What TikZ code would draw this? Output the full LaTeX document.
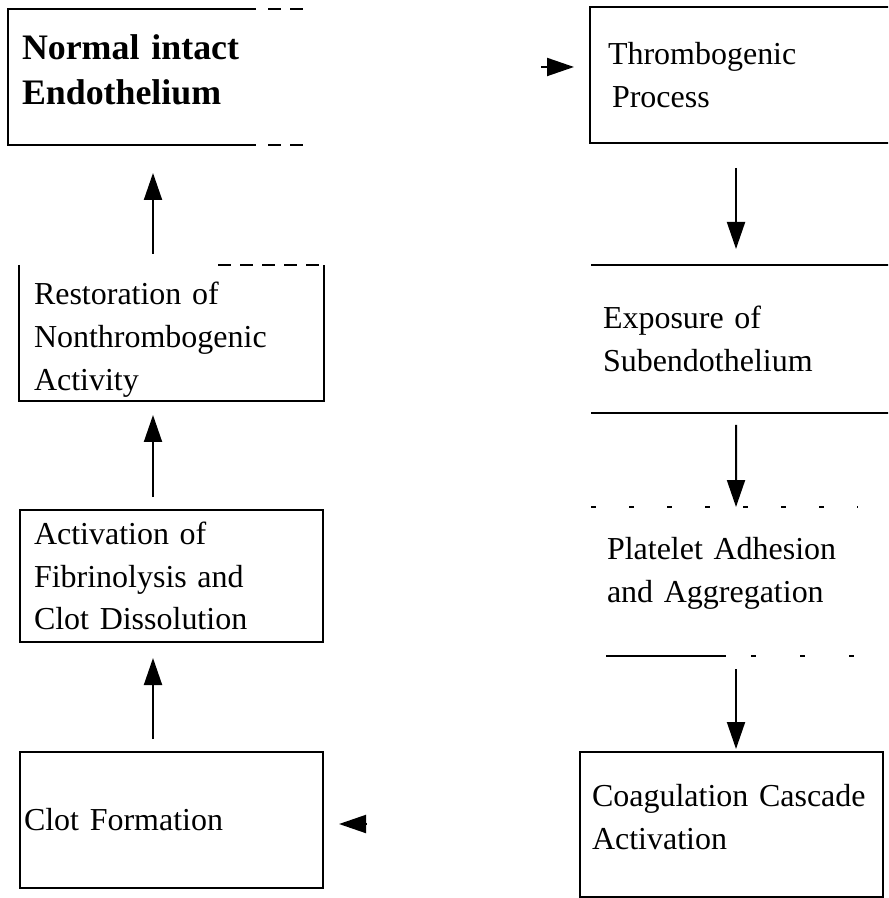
\documentclass[tikz,border=0pt]{standalone}
\usepackage{fontspec}
\setmainfont{Liberation Serif}
\usetikzlibrary{arrows.meta}

\newcommand\boxtxt{\fontsize{9.1}{12.2}\selectfont}
\newcommand\headtxt{\fontsize{10.2}{12.8}\selectfont\bfseries}

\begin{document}
\begin{tikzpicture}[x=0.1mm, y=-0.1mm, line width=0.2mm, font=\boxtxt,
  flow/.style={align=left, inner ysep=0pt},
  framed/.style={flow, draw},
  link/.style={-{Triangle[length=2.7mm, width=1.8mm]}},
  gapline/.style={dash pattern=on 1.3mm off 0.9mm}]

  \useasboundingbox (0,0) rectangle (888,898);
  \clip (0,0) rectangle (888,898);

  % left column: healing, read from the bottom up
  % (the \rule struts only nudge the text up or down inside its frame)
  \node[flow, minimum width=30.1mm, minimum height=13.4mm, inner xsep=1.3mm,
        text width=27.5mm, font=\headtxt] (endo) at (159.5,77)
        {Normal intact\\Endothelium\rule[-1.4mm]{0pt}{0pt}};
  \node[flow, minimum width=30.3mm, minimum height=13.4mm, inner xsep=1.4mm,
        text width=27.5mm] (rest) at (171.5,333)
        {\rule{0pt}{3.6mm}Restoration of\\Nonthrombogenic\\Activity};
  \node[framed, minimum width=30.3mm, minimum height=13.2mm, inner xsep=1.4mm,
        text width=27.5mm] (fib) at (171.5,576) {Activation of\\Fibrinolysis and\\Clot Dissolution};
  \node[framed, minimum width=30.3mm, minimum height=13.6mm, inner xsep=0.4mm,
        text width=29.5mm] (clot) at (171.5,820) {Clot Formation};

  % right column: injury, read from the top down
  \node[framed, minimum width=31mm, minimum height=13.6mm, inner xsep=1.8mm,
        text width=27.4mm] (thromb) at (745,75) {Thrombogenic\\\hspace{0.4mm}Process};
  \node[flow, minimum width=30.8mm, minimum height=14.6mm, inner xsep=1.1mm,
        text width=28.6mm] (expo) at (746,339) {Exposure of\\Subendothelium};
  \node[flow, minimum width=26.5mm, minimum height=14.7mm, inner xsep=1.5mm,
        text width=23.5mm] (plate) at (724.5,581.5)
        {Platelet Adhesion\\and Aggregation\rule[-2.3mm]{0pt}{0pt}};
  \node[framed, minimum width=30.3mm, minimum height=14.5mm, inner xsep=1.2mm,
        text width=27.9mm] (coag) at (731.5,824.5)
        {Coagulation Cascade\\Activation\rule[-1.6mm]{0pt}{0pt}};

  % the open (broken) frames
  \draw ([xshift=-5.5mm]endo.north east) -- (endo.north west) -- (endo.south west)
        -- ([xshift=-5.5mm]endo.south east);
  \draw[gapline] ([xshift=-4.3mm]endo.north east) -- (endo.north east);
  \draw[gapline] ([xshift=-4.3mm]endo.south east) -- (endo.south east);
  \draw (rest.north west) -- (rest.south west) -- (rest.south east) -- (rest.north east);
  \draw[gapline] ([xshift=-10.6mm]rest.north east) -- (rest.north east);
  \draw (expo.north west) -- (expo.north east);
  \draw (expo.south west) -- (expo.south east);
  \draw[dash pattern=on 0.5mm off 3.3mm] (plate.north west) -- (plate.north east);
  \draw ([xshift=1.5mm]plate.south west) -- ([xshift=13.5mm]plate.south west);
  \draw[dash pattern=on 0.5mm off 4.4mm] ([xshift=16mm]plate.south west) -- (plate.south east);

  % arrows
  \draw[link] ([shift={(-18.5,-11)}]rest.north) -- ([shift={(-6.5,28)}]endo.south);
  \draw[link] ([shift={(-18.5,-12)}]fib.north) -- ([shift={(-18.5,14)}]rest.south);
  \draw[link] ([shift={(-18.5,-12)}]clot.north) -- ([shift={(-18.5,15)}]fib.south);
  \draw[link] ([shift={(-9,24)}]thromb.south) -- ([shift={(-10,-16)}]expo.north);
  \draw[link] ([shift={(-10,12)}]expo.south) -- ([shift={(11.5,0)}]plate.north);
  \draw[link] ([shift={(11.5,13)}]plate.south) -- ([shift={(4.5,-2)}]coag.north);
  \draw[link] ([shift={(-48,-8)}]thromb.west) -- ([shift={(-15,-8)}]thromb.west);
  \draw[link] ([shift={(43,4)}]clot.east) -- ([shift={(15,4)}]clot.east);

\end{tikzpicture}
\end{document}
